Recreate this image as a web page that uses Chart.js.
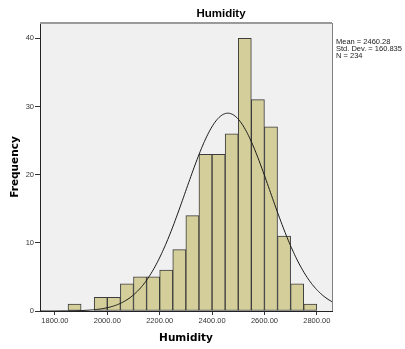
<!DOCTYPE html>
<html>
<head>
<meta charset="utf-8">
<script src="https://cdn.jsdelivr.net/npm/chart.js@4"></script>
<style>
  html, body { margin: 0; padding: 0; background: #fff; }
  #wrap { width: 405px; height: 349px; }
</style>
</head>
<body>
<div id="wrap"><canvas id="myChart" width="405" height="349"></canvas></div>
<script>
// histogram bins (centre of each 50-wide bin) and counts
const binCenters = [1875, 1925, 1975, 2025, 2075, 2125, 2175, 2225, 2275, 2325,
                    2375, 2425, 2475, 2525, 2575, 2625, 2675, 2725, 2775];
const counts = [1, 0, 2, 2, 4, 5, 5, 6, 9, 14, 23, 23, 26, 40, 31, 27, 11, 4, 1];
const xTicks = [1800, 2000, 2200, 2400, 2600, 2800];
const yTicks = [0, 10, 20, 30, 40];
const mean = 2460.28;
const stdDev = 160.835;
const n = 234;
const binWidth = 50;

// fitted normal curve from the reported mean / sd / N
const curve = [];
for (let x = 1743; x <= 2859; x += 4) {
    const z = (x - mean) / stdDev;
    curve.push({ x: x, y: n * binWidth * Math.exp(-0.5 * z * z) / (stdDev * Math.sqrt(2 * Math.PI)) });
}

const textPlugin = {
    id: 'spssText',
    beforeDraw(chart) {
        const { ctx, chartArea: a } = chart;
        ctx.save();
        ctx.fillStyle = '#f0f0f0';
        ctx.fillRect(a.left, a.top, a.right - a.left, a.bottom - a.top);
        ctx.restore();
    },
    afterDraw(chart) {
        const { ctx, chartArea: a } = chart;
        ctx.save();
        // frame top / right
        ctx.strokeStyle = '#9a9a9a';
        ctx.lineWidth = 2;
        ctx.beginPath();
        ctx.moveTo(a.left, a.top);
        ctx.lineTo(a.right, a.top);
        ctx.stroke();
        ctx.lineWidth = 1;
        ctx.strokeStyle = '#808080';
        ctx.beginPath();
        ctx.moveTo(a.right + 0.5, a.top);
        ctx.lineTo(a.right + 0.5, a.bottom);
        ctx.stroke();

        ctx.fillStyle = '#000';
        ctx.textAlign = 'center';
        ctx.textBaseline = 'middle';
        ctx.font = 'bold 11.5px "Liberation Sans", Arial, sans-serif';
        ctx.fillText('Humidity', 221, 14);
        ctx.font = 'bold 10.5px "DejaVu Sans", sans-serif';
        ctx.fillText('Humidity', 186, 338);
        ctx.save();
        ctx.translate(15, 167);
        ctx.rotate(-Math.PI / 2);
        ctx.fillText('Frequency', 0, 0);
        ctx.restore();

        ctx.textAlign = 'left';
        ctx.fillStyle = '#222';
        ctx.font = '7.5px "Liberation Sans", Arial, sans-serif';
        ctx.fillText('Mean = ' + mean.toFixed(2), 336, 42);
        ctx.fillText('Std. Dev. = ' + stdDev.toFixed(3), 336, 49);
        ctx.fillText('N = ' + n, 336, 56);
        ctx.restore();
    }
};

const ctx = document.getElementById('myChart').getContext('2d');
const chart = new Chart(ctx, {
    type: 'bar',
    data: {
        datasets: [{
            type: 'line',
            data: curve,
            borderColor: '#1a1a1a',
            borderWidth: 1,
            pointRadius: 0,
            pointHoverRadius: 0,
            fill: false,
            tension: 0,
            order: 0
        }, {
            data: binCenters.map((x, i) => ({ x: x, y: counts[i] })),
            backgroundColor: 'rgb(211, 206, 154)',
            borderColor: '#3c3c3c',
            borderWidth: 1,
            borderSkipped: false,
            barPercentage: 1,
            categoryPercentage: 1,
            order: 1
        }]
    },
    options: {
        responsive: false,
        animation: false,
        layout: { padding: { top: 23, right: 73, left: 0, bottom: 0 } },
        plugins: { legend: { display: false }, title: { display: false }, tooltip: { enabled: false } },
        scales: {
            x: {
                type: 'linear',
                offset: false,
                min: 1743,
                max: 2858,
                afterBuildTicks: s => { s.ticks = xTicks.map(v => ({ value: v })); },
                afterFit: s => { s.height = 38; },
                grid: { display: true, offset: false, drawOnChartArea: false, drawTicks: true, tickLength: 4, color: '#333' },
                border: { display: true, color: '#222', width: 1 },
                ticks: {
                    maxRotation: 0,
                    padding: 1,
                    color: '#333',
                    font: { size: 7.5, family: '"Liberation Sans", Arial, sans-serif' },
                    callback: v => v.toFixed(2)
                }
            },
            y: {
                min: 0,
                max: 42.25,
                afterBuildTicks: s => { s.ticks = yTicks.map(v => ({ value: v })); },
                afterFit: s => { s.width = 40; },
                grid: { display: true, drawOnChartArea: false, drawTicks: true, tickLength: 5, color: '#333' },
                border: { display: true, color: '#222', width: 1 },
                ticks: {
                    padding: 1,
                    color: '#333',
                    font: { size: 7.5, family: '"Liberation Sans", Arial, sans-serif' }
                }
            }
        }
    },
    plugins: [textPlugin]
});
</script>
</body>
</html>
